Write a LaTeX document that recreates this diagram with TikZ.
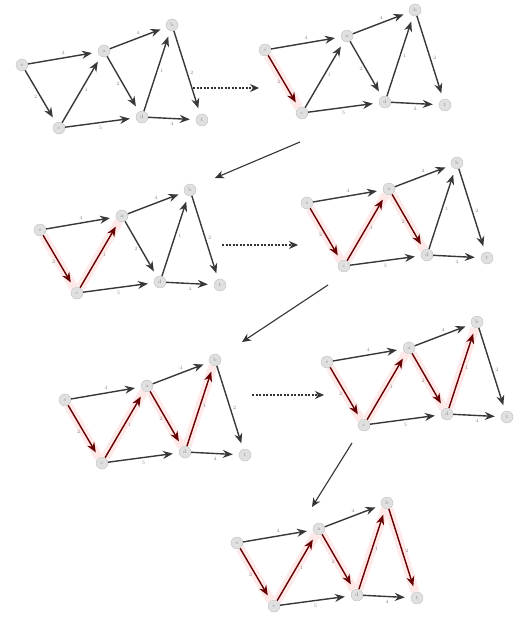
\documentclass[tikz,border=0pt]{standalone}
\usetikzlibrary{arrows.meta}

\newcommand{\dijkstraPanel}[3]{%
  \begin{scope}[shift={#2}, name prefix=#1-,
      edgeSA/.style={}, edgeSC/.style={}, edgeCA/.style={},
      edgeAB/.style={}, edgeAD/.style={}, edgeDB/.style={},
      edgeBT/.style={}, edgeCD/.style={}, edgeDT/.style={}, #3]
    \node[vertex] (s) at (0,0) {s};
    \node[vertex] (a) at (82,-14) {a};
    \node[vertex] (b) at (150,-40) {b};
    \node[vertex] (c) at (37,63) {c};
    \node[vertex] (d) at (120,52) {d};
    \node[vertex] (t) at (180,55) {t};

    \draw[edge, edgeSA] (s) -- node[weight, above] {4} (a);
    \draw[edge, edgeSC] (s) -- node[weight, left] {2} (c);
    \draw[edge, edgeCA] (c) -- node[weight, right] {1} (a);
    \draw[edge, edgeAB] (a) -- node[weight, above] {4} (b);
    \draw[edge, edgeAD] (a) -- node[weight, left] {2} (d);
    \draw[edge, edgeDB] (d) -- node[weight, right] {1} (b);
    \draw[edge, edgeBT] (b) -- node[weight, right] {2} (t);
    \draw[edge, edgeCD] (c) -- node[weight, below] {5} (d);
    \draw[edge, edgeDT] (d) -- node[weight, below] {4} (t);
  \end{scope}}

\begin{document}
\begin{tikzpicture}[x=1pt, y=-1pt, font=\small]
        \tikzset{
            vertex/.style={
                circle,
                fill=black!12,
                draw=black!25,
                line width=0.4pt,
                minimum size=12pt,
                inner sep=0pt,
                text=black!45,
                font=\fontsize{5}{5}\selectfont
            },
            edge/.style={draw=black!78, line width=1.4pt, -{Stealth[length=10pt, width=8pt]}, shorten >=6pt},
            treeEdge/.style={draw=red!40!black, preaction={draw=red!9, line width=9pt, -, shorten >=0pt}},
            weight/.style={text=black!45, font=\fontsize{5}{5}\selectfont, inner sep=2.5pt},
            stepArrow/.style={draw=black!80, line width=1.1pt, -{Stealth[length=9pt, width=8pt]}},
            roundArrow/.style={stepArrow, dash pattern=on 2pt off 1.5pt}
        }

        \useasboundingbox (0,0) rectangle (521,618);

        \dijkstraPanel{p1}{(22,65)}{}
        \dijkstraPanel{p2}{(265,50)}{edgeSC/.style=treeEdge}
        \dijkstraPanel{p3}{(40,230)}{edgeSC/.style=treeEdge, edgeCA/.style=treeEdge}
        \dijkstraPanel{p4}{(307,203)}{edgeSC/.style=treeEdge, edgeCA/.style=treeEdge, edgeAD/.style=treeEdge}
        \dijkstraPanel{p5}{(65,400)}{edgeSC/.style=treeEdge, edgeCA/.style=treeEdge, edgeAD/.style=treeEdge, edgeDB/.style=treeEdge}
        \dijkstraPanel{p6}{(327,362)}{edgeSC/.style=treeEdge, edgeCA/.style=treeEdge, edgeAD/.style=treeEdge, edgeDB/.style=treeEdge}
        \dijkstraPanel{p7}{(237,543)}{edgeSC/.style=treeEdge, edgeCA/.style=treeEdge, edgeAD/.style=treeEdge, edgeDB/.style=treeEdge, edgeBT/.style=treeEdge}

        \coordinate (hopOneA) at (193,88);
        \coordinate (hopOneB) at (259,88);
        \coordinate (hopTwoA) at (300,142);
        \coordinate (hopTwoB) at (215,178);
        \coordinate (hopThreeA) at (222,245);
        \coordinate (hopThreeB) at (298,245);
        \coordinate (hopFourA) at (328,285);
        \coordinate (hopFourB) at (242,342);
        \coordinate (hopFiveA) at (252,395);
        \coordinate (hopFiveB) at (324,395);
        \coordinate (hopSixA) at (352,443);
        \coordinate (hopSixB) at (312,507);

        \draw[roundArrow] (hopOneA) -- (hopOneB);
        \draw[stepArrow] (hopTwoA) -- (hopTwoB);
        \draw[roundArrow] (hopThreeA) -- (hopThreeB);
        \draw[stepArrow] (hopFourA) -- (hopFourB);
        \draw[roundArrow] (hopFiveA) -- (hopFiveB);
        \draw[stepArrow] (hopSixA) -- (hopSixB);
    \end{tikzpicture}
\end{document}
